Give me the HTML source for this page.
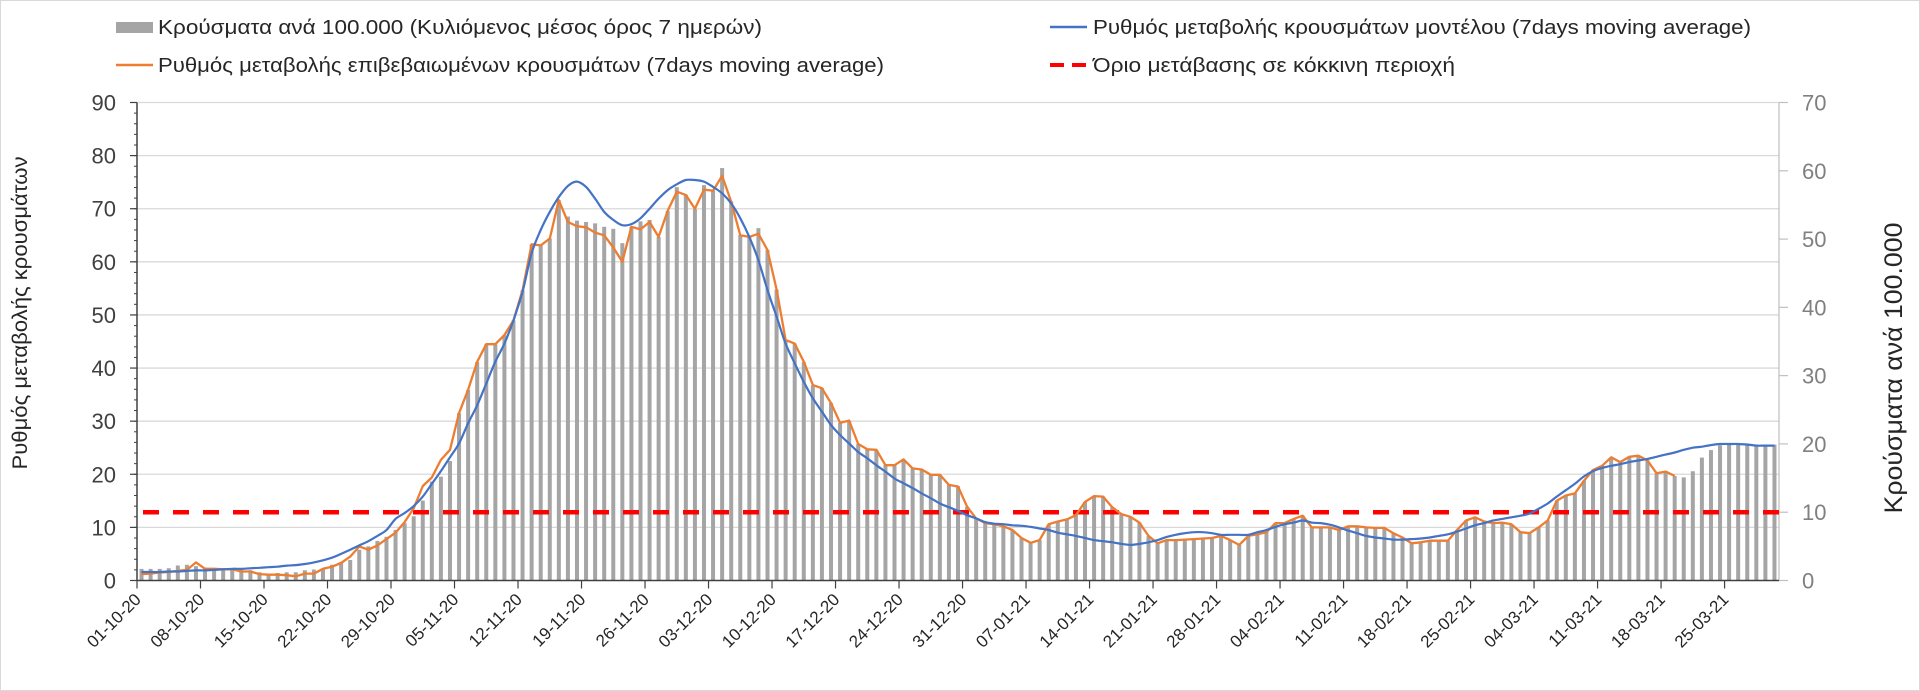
<!DOCTYPE html>
<html><head><meta charset="utf-8">
<style>
html,body{margin:0;padding:0;background:#fff;}
svg{display:block;font-family:"Liberation Sans","DejaVu Sans",sans-serif;}
</style></head>
<body>
<svg id="chart" width="1920" height="691" viewBox="0 0 1920 691" xmlns="http://www.w3.org/2000/svg">
<rect x="0.5" y="0.5" width="1919" height="690" fill="#fff" stroke="#d9d9d9"/>
<g id="grid"></g>
<g id="bars"></g>
<g id="axes"></g>
<g id="lines"></g>
<g id="legend">
  <g>
    <rect x="116" y="22" width="37" height="11" fill="#a5a5a5"/>
    <text x="158" y="34" font-size="20" fill="#262626" textLength="604" lengthAdjust="spacingAndGlyphs">Κρούσματα ανά 100.000 (Κυλιόμενος μέσος όρος 7 ημερών)</text>
  </g>
  <g>
    <line x1="1050" y1="27" x2="1087" y2="27" stroke="#4472c4" stroke-width="2.5"/>
    <text x="1093" y="34" font-size="20" fill="#262626" textLength="658" lengthAdjust="spacingAndGlyphs">Ρυθμός μεταβολής κρουσμάτων μοντέλου (7days moving average)</text>
  </g>
  <g>
    <line x1="116" y1="65" x2="153" y2="65" stroke="#ed7d31" stroke-width="2.5"/>
    <text x="158" y="72" font-size="20" fill="#262626" textLength="726" lengthAdjust="spacingAndGlyphs">Ρυθμός μεταβολής επιβεβαιωμένων κρουσμάτων (7days moving average)</text>
  </g>
  <g>
    <line x1="1050" y1="65" x2="1087" y2="65" stroke="#ff0000" stroke-width="4" stroke-dasharray="14,8"/>
    <text x="1093" y="72" font-size="20" fill="#262626" textLength="362" lengthAdjust="spacingAndGlyphs">Όριο μετάβασης σε κόκκινη περιοχή</text>
  </g>
</g>
<text transform="translate(27,313) rotate(-90)" text-anchor="middle" font-size="21" fill="#262626" textLength="313" lengthAdjust="spacingAndGlyphs">Ρυθμός μεταβολής κρουσμάτων</text>
<text transform="translate(1902,368) rotate(-90)" text-anchor="middle" font-size="25" fill="#262626" textLength="291" lengthAdjust="spacingAndGlyphs">Κρούσματα ανά 100.000</text>
</svg>
<script>
const orangeVals = [1.2,1.3,1.5,1.6,1.8,2.0,3.4,2.2,2.2,2.1,2.1,1.7,1.7,1.2,
1.1,1.1,1.0,0.8,1.3,1.3,2.2,
2.6,3.3,4.5,6.4,5.8,6.6,7.8,
9.0,11.0,13.6,17.8,19.4,22.7,24.6,
31.5,35.9,41.2,44.5,44.5,46.2,49,54.7,63.3,63.1,64.4,71.6,67.5,66.7,66.5,65.5,65,62.7,60,66.6,66.1,67.5,64.7,69.6,73.2,72.6,70,73.6,73.4,76.2,71.3,65,64.7,65.3,62.2,54.8,45.3,
44.6,41.2,36.8,36.2,33.4,29.7,30.1,25.7,24.7,24.6,21.7,21.7,22.8,21.1,20.9,19.9,19.9,18,17.7,13.9,11.7,10.8,10.6,10.2,9.5,8,7.1,7.6,10.6,11.1,11.5,12.3,14.8,15.9,15.8,
13.8,12.5,12,10.9,8.4,7,7.6,7.6,7.7,7.8,7.9,8,8.4,7.6,6.7,8.4,8.7,9.1,10.8,10.8,11.6,12.2,10,10,10,
9.5,10.2,10.2,10,9.9,9.9,8.9,8.1,7,7.2,7.5,7.5,7.5,9.5,11.3,11.9,11.1,10.8,10.9,10.6,9.1,8.9,10,11.3,15,16,
16.4,18.8,20.8,21.6,23.2,22.3,23.3,23.5,22.6,20.2,20.5,19.7];
const blueVals = [1.6,1.6,1.6,1.7,1.7,1.8,1.9,1.9,2.0,2.1,2.2,2.2,2.3,2.4,2.5,2.6,2.8,2.9,3.1,3.4,3.8,4.3,5.0,5.8,6.6,7.4,8.4,9.5,11.6,12.7,14.0,15.8,18.2,20.6,23.2,
25.8,29.6,33,37.1,41.2,44.6,49,54.4,61.6,66,69.4,72.2,74.3,75.1,74.1,71.9,69.4,67.9,66.9,67.1,68.2,70,71.9,73.5,74.6,75.4,75.4,75.1,74.1,72.9,71,68.2,64.7,60.3,54.7,49.7,44.6,
40.9,37.4,34.3,31.8,29.3,27.4,25.8,24.2,23,21.7,20.5,19.2,18.3,17.4,16.4,15.5,14.5,13.8,13.1,12.3,11.7,11,10.7,10.6,10.4,10.3,10.1,9.8,9.5,9,8.7,8.4,8,7.6,7.4,
7.2,6.9,6.7,6.9,7.2,7.6,8.2,8.6,8.9,9.1,9.1,8.9,8.6,8.6,8.6,8.6,9.1,9.5,10.1,10.6,10.9,11.3,10.9,10.8,10.5,
10,9.4,8.9,8.4,8.1,7.9,7.7,7.7,7.8,7.9,8.1,8.4,8.7,9.2,9.8,10.4,10.8,11.3,11.6,11.9,12.2,12.6,13.5,14.5,15.8,17,
18.2,19.6,20.6,21.2,21.6,21.9,22.3,22.6,22.9,23.3,23.7,24.1,24.6,25,25.2,25.5,25.7,25.7,25.7,25.6,25.4,25.4,25.4];
const barVals = [1.7,1.7,1.7,1.8,2.2,2.3,2.1,1.9,1.8,1.8,1.7,1.6,1.5,1.2,
1.0,1.1,1.2,1.2,1.5,1.6,1.7,
2.3,2.7,3.0,4.5,5.0,5.8,6.4,
7.4,8.4,9.4,11.7,14.5,15.2,17.5,
24.5,27.9,32.0,34.6,34.6,35.9,38.1,42.5,49.2,49.1,50.1,55.7,53.3,52.7,52.5,52.3,51.8,51.5,49.4,51.8,52.6,52.8,50.3,54.1,57.6,56.5,54.4,57.9,57.1,60.4,55.5,50.6,50.3,51.6,48.4,42.6,35.2,
34.7,32.0,28.6,28.2,26.0,23.1,23.4,20.0,19.2,19.1,16.9,16.9,17.7,16.4,16.3,15.5,15.5,14.0,13.8,10.8,9.1,8.4,8.2,7.9,7.4,6.2,5.5,5.9,8.2,8.6,8.9,9.6,11.5,12.4,12.3,
10.7,9.7,9.3,8.5,6.5,5.4,5.9,5.9,6.0,6.1,6.1,6.2,6.5,5.9,5.2,6.5,6.8,7.1,8.4,8.4,9.0,9.5,7.8,7.8,7.8,
7.4,7.9,7.9,7.8,7.7,7.7,6.9,6.3,5.4,5.6,5.8,5.8,5.8,7.4,8.8,9.3,8.6,8.4,8.5,8.2,7.1,6.9,7.8,8.8,11.7,12.4,
12.8,14.6,16.2,16.8,18.0,17.3,18.1,18.3,17.6,15.7,15.9,15.3,
15.1,16.0,18.0,19.1,19.8,19.9,20.0,20.0,19.9,19.9,19.9];
const xTickLabels = ["01-10-20","08-10-20","15-10-20","22-10-20","29-10-20","05-11-20","12-11-20","19-11-20","26-11-20","03-12-20","10-12-20","17-12-20","24-12-20","31-12-20","07-01-21","14-01-21","21-01-21","28-01-21","04-02-21","11-02-21","18-02-21","25-02-21","04-03-21","11-03-21","18-03-21","25-03-21"];
const leftTicks = [0,10,20,30,40,50,60,70,80,90];
const rightTicks = [0,10,20,30,40,50,60,70];
const thresholdRight = [10];
const nDays = 181;

const NS = "http://www.w3.org/2000/svg";
const X0 = 137, X1 = 1779, Y0 = 580.5, Y1 = 102.5;
const slot = (X1 - X0) / nDays;
function xCenter(i){ return X0 + slot * (i + 0.5); }
function xEdge(i){ return X0 + slot * i; }
function yL(v){ return Y0 - (v / 90) * (Y0 - Y1); }
function yR(v){ return Y0 - (v / 70) * (Y0 - Y1); }
function mk(tag, attrs, parent){ const e = document.createElementNS(NS, tag); for (const k in attrs) e.setAttribute(k, attrs[k]); parent.appendChild(e); return e; }

const grid = document.getElementById('grid');
const axes = document.getElementById('axes');
const bars = document.getElementById('bars');
const lines = document.getElementById('lines');

leftTicks.forEach(v => {
  if (v > 0) {
    const g = mk('line', {x1:X0, x2:X1, y1:yL(v), y2:yL(v), stroke:'#d9d9d9', 'stroke-width':1.3}, grid);
    
    
  }
  const t = mk('text', {x:116, y:yL(v) + 8, 'text-anchor':'end', 'font-size':22, fill:'#404040'}, axes);
  t.textContent = v;
  
  
  mk('line', {x1:130, x2:X0, y1:yL(v), y2:yL(v), stroke:'#404040', 'stroke-width':1.2}, axes);
});
for (let v = 0; v < 90; v += 2) {
  mk('line', {x1:X0 - 3, x2:X0, y1:yL(v), y2:yL(v), stroke:'#404040', 'stroke-width':1}, axes);
}
rightTicks.forEach(v => {
  const t = mk('text', {x:1802, y:yR(v) + 8, 'font-size':22, fill:'#808080'}, axes);
  t.textContent = v;
  
  
  mk('line', {x1:X1, x2:X1 + 9, y1:yR(v), y2:yR(v), stroke:'#bfbfbf', 'stroke-width':1.2}, axes);
});

barVals.forEach((v, i) => {
  const h = Y0 - yR(v);
  const b = mk('rect', {x:xCenter(i) - 2, y:yR(v), width:4, height:h, fill:'#a5a5a5'}, bars);
  
  
});

const la = mk('line', {x1:X0, x2:X0, y1:Y1, y2:Y0, stroke:'#404040', 'stroke-width':1.5}, axes);


const ra = mk('line', {x1:X1, x2:X1, y1:Y1, y2:Y0, stroke:'#bfbfbf', 'stroke-width':1.2}, axes);


const xa = mk('line', {x1:X0, x2:X1, y1:Y0, y2:Y0, stroke:'#404040', 'stroke-width':1.5}, axes);



xTickLabels.forEach((lab, k) => {
  const x = xEdge(k * 7);
  mk('line', {x1:x, x2:x, y1:Y0, y2:Y0 + 8, stroke:'#404040', 'stroke-width':1.2}, axes);
  const t = mk('text', {transform:'translate(' + (x + 5) + ',' + (Y0 + 20) + ') rotate(-45)', 'text-anchor':'end', 'font-size':17, fill:'#262626'}, axes);
  t.textContent = lab;
  
  
});

const th = mk('line', {x1:X0 + 6, x2:X1, y1:yR(thresholdRight[0]), y2:yR(thresholdRight[0]), stroke:'#ff0000', 'stroke-width':4.5, 'stroke-dasharray':'16,14'}, lines);



const op = mk('polyline', {points: orangeVals.map((v, i) => xCenter(i).toFixed(1) + ',' + yL(v).toFixed(1)).join(' '), fill:'none', stroke:'#ed7d31', 'stroke-width':2.3, 'stroke-linejoin':'round'}, lines);



function smoothPath(vals){
  const p = vals.map((v, i) => [xCenter(i), yL(v)]);
  let d = 'M' + p[0][0].toFixed(1) + ',' + p[0][1].toFixed(1);
  for (let i = 0; i < p.length - 1; i++) {
    const p0 = p[Math.max(0, i - 1)], p1 = p[i], p2 = p[i + 1], p3 = p[Math.min(p.length - 1, i + 2)];
    const c1 = [p1[0] + (p2[0] - p0[0]) / 6, p1[1] + (p2[1] - p0[1]) / 6];
    const c2 = [p2[0] - (p3[0] - p1[0]) / 6, p2[1] - (p3[1] - p1[1]) / 6];
    d += ' C' + c1[0].toFixed(1) + ',' + c1[1].toFixed(1) + ' ' + c2[0].toFixed(1) + ',' + c2[1].toFixed(1) + ' ' + p2[0].toFixed(1) + ',' + p2[1].toFixed(1);
  }
  return d;
}
const bp = mk('path', {d: smoothPath(blueVals), fill:'none', stroke:'#4472c4', 'stroke-width':2.2}, lines);


</script>
</body></html>
